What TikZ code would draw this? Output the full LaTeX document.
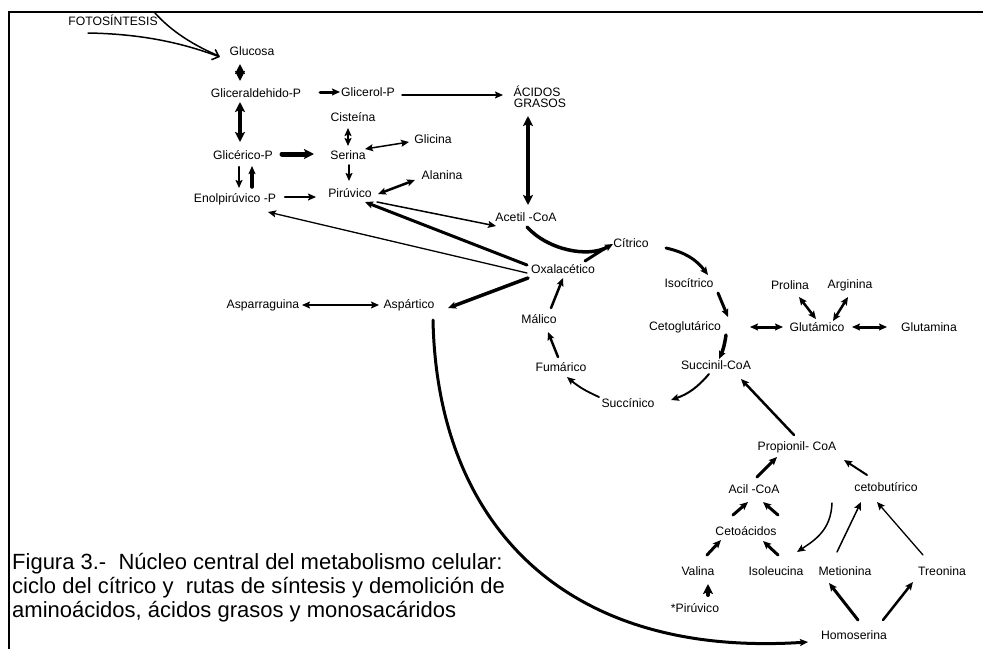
\documentclass[tikz,border=0pt]{standalone}
\usepackage{fontspec}
\setmainfont{Liberation Sans}
\usetikzlibrary{arrows.meta}
\begin{document}
\begin{tikzpicture}[x=1pt,y=-1pt,
  lab/.style={inner sep=0pt,font=\fontsize{12.2}{14}\selectfont},
  ln/.style={line width=#1,line cap=round},
  ln/.default=1.5pt,
  >={Stealth[length=8pt,width=7pt,inset=1.5pt]},
  big/.style={>={Stealth[length=10pt,width=10pt,inset=2pt]}},
]
\useasboundingbox (0,0) rectangle (983,649);
% frame: top and left rules
\draw[line width=2pt] (983,12) -- (9,12) -- (9,649);

% metabolites
\node[lab] (foto) at (113,20) {FOTOSÍNTESIS};
\node[lab] (glucosa) at (252,51) {Glucosa};
\node[lab] (glicald) at (256,93) {Gliceraldehido-P};
\node[lab] (glicerico) at (243,155) {Glicérico-P};
\node[lab] (enol) at (235,199) {Enolpirúvico -P};
\node[lab] (glicerol) at (368,92) {Glicerol-P};
\node[lab,align=center] (acidos) at (537,97) {ÁCIDOS\\[-3pt]\hspace*{6pt}GRASOS};
\node[lab] (cisteina) at (353,117) {Cisteína};
\node[lab] (serina) at (348,155) {Serina};
\node[lab] (glicina) at (433,139) {Glicina};
\node[lab] (alanina) at (442,175) {Alanina};
\node[lab] (piruvico) at (350,193) {Pirúvico};
\node[lab] (acetil) at (526,217) {Acetil -CoA};
\node[lab] (citrico) at (631,243) {Cítrico};
\node[lab] (oxal) at (563,269) {Oxalacético};
\node[lab] (isocitrico) at (689,283) {Isocítrico};
\node[lab] (cetoglut) at (685,327) {Cetoglutárico};
\node[lab] (succinil) at (716,365) {Succinil-CoA};
\node[lab] (succinico) at (628,403) {Succínico};
\node[lab] (fumarico) at (561,367) {Fumárico};
\node[lab] (malico) at (539,319) {Málico};
\node[lab] (prolina) at (790,285) {Prolina};
\node[lab] (arginina) at (850,285) {Arginina};
\node[lab] (glutamico) at (817,327) {Glutámico};
\node[lab] (glutamina) at (929,327) {Glutamina};
\node[lab] (asparraguina) at (263,305) {Asparraguina};
\node[lab] (aspartico) at (409,305) {Aspártico};
\node[lab] (propionil) at (797,447) {Propionil- CoA};
\node[lab] (acil) at (754,489) {Acil -CoA};
\node[lab] (cetobut) at (886,487) {cetobutírico};
\node[lab] (cetoacidos) at (746,531) {Cetoácidos};
\node[lab] (valina) at (698,571) {Valina};
\node[lab] (isoleucina) at (776,571) {Isoleucina};
\node[lab] (metionina) at (845,571) {Metionina};
\node[lab] (treonina) at (942,571) {Treonina};
\node[lab] (piruvicob) at (695,608) {*Pirúvico};
\node[lab] (homoserina) at (854,635) {Homoserina};

% caption
\node[inner sep=0pt,anchor=north west,align=left,
      font=\fontsize{22}{24}\selectfont] (caption) at (12,553)
  {Figura 3.-\ \ Núcleo central del metabolismo celular:\\
   ciclo del cítrico y\ \ rutas de síntesis y demolición de\\
   aminoácidos, ácidos grasos y monosacáridos};

% photosynthesis input
\draw[ln,-{Straight Barb[length=6pt,width=11pt]}]
  ([shift={(-25,13)}]foto.center) .. controls (150,34) and (190,46) .. ([shift={(-32,6)}]glucosa.center);
\draw[ln] ([shift={(42,-7)}]foto.center) .. controls (172,32) and (195,46) .. ([shift={(-33,5)}]glucosa.center);

% glycolysis
\draw[ln=4pt,big,<->] ([shift={(-12,13)}]glucosa.center) -- ([shift={(-16,-12)}]glicald.center);
\draw[ln=4pt,big,<->] ([shift={(-16,9)}]glicald.center) -- ([shift={(-3,-13)}]glicerico.center);
\draw[ln=2.5pt,->] ([shift={(-4,12)}]glicerico.center) -- ([shift={(4,-11)}]enol.center);
\draw[ln=3.5pt,->] ([shift={(17,-12)}]enol.center) -- ([shift={(9,11)}]glicerico.center);
\draw[ln=3pt,->] ([shift={(64,-1)}]glicald.center) -- ([shift={(-28,0)}]glicerol.center);
\draw[ln,->] ([shift={(34,3)}]glicerol.center) -- ([shift={(-34,-2)}]acidos.center);
\draw[ln=5pt,big,->] ([shift={(39,-1)}]glicerico.center) -- ([shift={(-34,-1)}]serina.center);
\draw[ln=2.5pt,->] ([shift={(50,-2)}]enol.center) -- ([shift={(-34,4)}]piruvico.center);

% amino acids around serine and pyruvate
\draw[ln=2pt,<->] ([shift={(-5,11)}]cisteina.center) -- ([shift={(0,-9)}]serina.center);
\draw[ln,<->] ([shift={(17,-6)}]serina.center) -- ([shift={(-24,3)}]glicina.center);
\draw[ln=2pt,->] ([shift={(1,10)}]serina.center) -- ([shift={(-1,-12)}]piruvico.center);
\draw[ln=2.5pt,<->] ([shift={(28,1)}]piruvico.center) -- ([shift={(-27,5)}]alanina.center);
\draw[ln,->] ([shift={(27,9)}]piruvico.center) -- ([shift={(-30,9)}]acetil.center);
\draw[ln=3pt,->] ([shift={(-36,-4)}]oxal.center) -- ([shift={(15,9)}]piruvico.center);
\draw[ln=1.3pt,->] ([shift={(-36,4)}]oxal.center) -- ([shift={(33,13)}]enol.center);
\draw[ln=3.5pt,->] ([shift={(-35,9)}]oxal.center) -- ([shift={(39,3)}]aspartico.center);
\draw[ln,<->] ([shift={(39,0)}]asparraguina.center) -- ([shift={(-30,0)}]aspartico.center);

% fatty acids
\draw[ln=4pt,big,<->] ([shift={(-9,19)}]acidos.center) -- ([shift={(2,-12)}]acetil.center);

% citric acid cycle
\draw[ln=3.5pt,->] ([shift={(1,10)}]acetil.center) .. controls (548,250) and (588,258) .. ([shift={(-18,1)}]citrico.center);
\draw[ln=3pt] ([shift={(22,-8)}]oxal.center) -- ([shift={(-24,4)}]citrico.center);
\draw[ln=3pt,->] ([shift={(35,5)}]citrico.center) to[bend left=20] ([shift={(19,-8)}]isocitrico.center);
\draw[ln=3pt,->] ([shift={(29,10)}]isocitrico.center) -- ([shift={(43,-10)}]cetoglut.center);
\draw[ln=3.5pt,->] ([shift={(41,8)}]cetoglut.center) to[bend left=8] ([shift={(3,-6)}]succinil.center);
\draw[ln=2pt,->] ([shift={(-7,9)}]succinil.center) to[bend left=15] ([shift={(43,-3)}]succinico.center);
\draw[ln=1.8pt,->] ([shift={(-29,-6)}]succinico.center) to[bend left=8] ([shift={(6,10)}]fumarico.center);
\draw[ln=2.5pt,->] ([shift={(-3,-10)}]fumarico.center) -- ([shift={(9,13)}]malico.center);
\draw[ln=2.5pt,->] ([shift={(12,-11)}]malico.center) -- ([shift={(0,9)}]oxal.center);

% glutamate family
\draw[ln=3pt,<->] ([shift={(65,0)}]cetoglut.center) -- ([shift={(-34,0)}]glutamico.center);
\draw[ln=3pt,<->] ([shift={(35,0)}]glutamico.center) -- ([shift={(-42,0)}]glutamina.center);
\draw[ln=2.5pt,<->] ([shift={(-1,-8)}]glutamico.center) -- ([shift={(9,12)}]prolina.center);
\draw[ln=2.5pt,<->] ([shift={(16,-6)}]glutamico.center) -- ([shift={(-2,12)}]arginina.center);

% propionyl-CoA branch
\draw[ln=2.5pt,->] ([shift={(-3,-12)}]propionil.center) -- ([shift={(25,14)}]succinil.center);
\draw[ln=3pt,->] ([shift={(3,-12)}]acil.center) -- ([shift={(-20,10)}]propionil.center);
\draw[ln=2pt,->] ([shift={(-19,-12)}]cetobut.center) -- ([shift={(47,13)}]propionil.center);
\draw[ln=3pt,->] ([shift={(-13,-16)}]cetoacidos.center) -- ([shift={(-6,13)}]acil.center);
\draw[ln=3pt,->] ([shift={(2,-56)}]isoleucina.center) -- ([shift={(9,13)}]acil.center);
\draw[ln=3pt,->] ([shift={(9,-16)}]valina.center) -- ([shift={(-25,9)}]cetoacidos.center);
\draw[ln=3pt,->] ([shift={(2,-16)}]isoleucina.center) -- ([shift={(17,10)}]cetoacidos.center);
\draw[ln=4pt,big,->] ([shift={(13,-13)}]piruvicob.center) -- ([shift={(10,13)}]valina.center);
\draw[ln,->] ([shift={(-54,16)}]cetobut.center) .. controls (831,530) and (815,540) .. ([shift={(21,-19)}]isoleucina.center);
\draw[ln,->] ([shift={(-8,-19)}]metionina.center) -- ([shift={(-25,15)}]cetobut.center);
\draw[ln=1.3pt,->] ([shift={(-19,-16)}]treonina.center) -- ([shift={(-9,15)}]cetobut.center);
\draw[ln=3pt,->] ([shift={(4,-15)}]homoserina.center) -- ([shift={(-16,12)}]metionina.center);
\draw[ln=2.5pt,->] ([shift={(29,-15)}]homoserina.center) -- ([shift={(-29,11)}]treonina.center);

% aspartate to homoserine
\draw[ln=3pt,->] ([shift={(24,15)}]aspartico.center) .. controls (437,520) and (560,658) .. ([shift={(-46,7)}]homoserina.center);
\end{tikzpicture}
\end{document}
